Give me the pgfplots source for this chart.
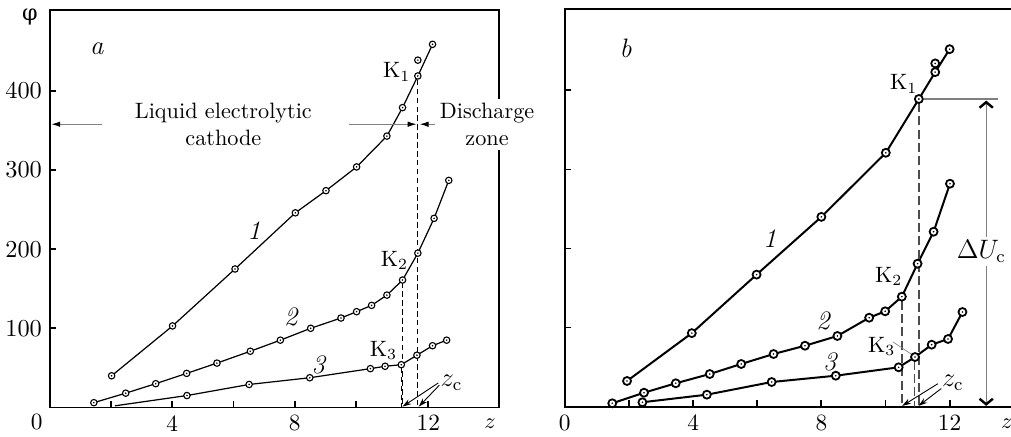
\documentclass[border=0pt]{standalone}
\usepackage{fontspec}
\usepackage{pgfplots}
\pgfplotsset{compat=1.18}
\usetikzlibrary{arrows.meta}
\newfontfamily\dejavu{DejaVu Serif}

% open circle with a dot in the middle
\pgfdeclareplotmark{odot}{%
  \pgfpathcircle{\pgfpointorigin}{\pgfplotmarksize}%
  \pgfsetfillcolor{white}%
  \pgfusepathqfillstroke
  \pgfsetfillcolor{black}%
  \pgfpathcircle{\pgfpointorigin}{0.4pt}%
  \pgfusepathqfill}

\pgfplotsset{
  panel/.style={scale only axis, clip=false, anchor=south west,
    xmin=0, ymin=0, tick pos=left, tick align=inside,
    major tick length=3pt,
    axis line style={line width=0.8pt},
    tick style={line width=0.8pt, black},
    tick label style={font=\fontsize{10.5}{12}\selectfont},
    ytick={100,200,300,400}},
  ca/.style={black, line width=0.55pt, mark=odot, mark size=1.45pt,
    mark options={line width=0.5pt}},
  cb/.style={black, line width=0.9pt, mark=odot, mark size=1.8pt,
    mark options={line width=0.8pt}},
}

\begin{document}
\begin{tikzpicture}[font=\normalsize]
%--------------------------------- panel a
\begin{axis}[panel, at={(22.39pt,12.87pt)},
  width=202.16pt, height=178.83pt, xmax=14.67, ymax=502.4,
  xtick={2,4,6,8,10,12.36}, xticklabels={,4,,8,,12}]
\addplot[ca] coordinates {(2.02,40) (4.01,103) (6.05,175) (8.02,246) (9.02,274)
  (10.02,304) (11.01,343) (11.52,379) (12.02,419) (12.5,459)};
\addplot[ca, only marks] coordinates {(12.02,439)};
\addplot[ca] coordinates {(1.44,6) (2.48,18) (3.46,30) (4.47,43) (5.46,56)
  (6.55,71) (7.53,85) (8.52,100) (9.51,113) (10.02,121) (10.51,129)
  (11.01,142) (11.52,161) (12.02,195) (12.55,239) (13.03,287)};
\addplot[black, line width=0.55pt, mark=none] coordinates {(2.13,2) (4.48,15)};
\addplot[ca] coordinates {(4.48,15) (6.51,29) (8.49,37.5) (10.47,49)
  (10.95,52) (11.48,54) (11.99,66) (12.5,78) (12.96,85)};

\draw[dash pattern=on 2.5pt off 1.5pt, line width=0.5pt]
  (axis cs:11.52,158) -- (axis cs:11.52,0)
  (axis cs:11.48,50) -- (axis cs:11.48,0)
  (axis cs:12.02,414) -- (axis cs:12.02,0);
\draw[gray, line width=0.5pt, -{Latex[black,length=4pt,width=2.5pt]}]
  (axis cs:1.7,358) -- (axis cs:0.05,358);
\draw[gray, line width=0.5pt, -{Latex[black,length=4pt,width=2.5pt]}]
  (axis cs:9.78,358) -- (axis cs:11.98,358);
\draw[gray, line width=0.5pt, -{Latex[black,length=4pt,width=2.5pt]}]
  (axis cs:12.58,358) -- (axis cs:12.08,358);
\node[align=center] at (axis cs:5.67,358) {Liquid electrolytic\\cathode};
\coordinate (dz) at (axis cs:14.28,358);

\draw[line width=0.4pt, -{Stealth[length=4pt,width=2.5pt]}]
  (axis cs:12.69,31) -- (axis cs:11.52,1);
\draw[line width=0.4pt, -{Stealth[length=4pt,width=2.5pt]}]
  (axis cs:12.72,28) -- (axis cs:12.05,1);
\node[font=\large] at (axis cs:13.12,31) {$z_\mathrm{c}$};

\node[font=\large\itshape] at (axis cs:1.54,453) {a};
\node at (axis cs:11.33,424) {K$_1$};
\node at (axis cs:11.26,186) {K$_2$};
\node at (axis cs:10.9,72) {K$_3$};
\node[font=\large\itshape] at (axis cs:6.67,224) {1};
\node[font=\large\itshape] at (axis cs:7.87,115) {2};
\node[font=\large\itshape] at (axis cs:8.77,54) {3};
\node[font=\fontsize{10.5}{12}\selectfont] at (axis cs:-0.43,-18) {0};
\node at (axis cs:14.38,-21) {$z$};
\node at (axis cs:-0.65,494) {\dejavu φ};
\end{axis}
\node[fill=white, align=center, inner sep=2pt] at (dz) {Discharge\\zone};

%--------------------------------- panel b
\begin{axis}[panel, at={(254.16pt,13.19pt)},
  width=210.7pt, height=178.97pt, xmax=14.6, ymax=502.8,
  xtick={0,2,4,6,8,10,12}, xticklabels={0,,4,,8,,12}, yticklabels={}]
\addplot[cb] coordinates {(1.94,32.5) (3.96,93) (5.98,167) (8,240) (10.01,321)
  (11.04,389) (11.55,423) (12,452)};
\addplot[cb, only marks] coordinates {(11.55,434)};
\addplot[cb] coordinates {(1.48,4.3) (2.47,17.7) (3.46,29.6) (4.52,41.3)
  (5.5,54) (6.51,66.6) (7.49,77.1) (8.5,89.4) (9.49,112.5) (9.99,120.6)
  (10.51,139.1) (11,180.8) (11.5,221.2) (12.01,281.9)};
\addplot[cb] coordinates {(2.42,5.6) (4.43,15.2) (6.45,31.2) (8.45,39.2)
  (10.41,49.8) (10.92,62.8) (11.44,78.4) (11.95,85.6) (12.4,119.7)};

\draw[gray!60!black, dash pattern=on 4pt off 2pt, line width=0.6pt]
  (axis cs:10.51,134) -- (axis cs:10.51,0)
  (axis cs:10.9,58) -- (axis cs:10.9,0)
  (axis cs:11.04,384) -- (axis cs:11.04,0);
\draw[gray, line width=0.5pt] (axis cs:11.2,389) -- (axis cs:13.51,389);
\draw[gray, line width=0.5pt,
  {Straight Barb[black,length=2.5pt,width=6pt,line width=1.1pt]}-{Straight Barb[black,length=2.5pt,width=6pt,line width=1.1pt]}]
  (axis cs:13.14,387) -- (axis cs:13.14,1);
\coordinate (du) at (axis cs:12.99,196);
\draw[gray, line width=0.3pt] (axis cs:10.23,82) -- (axis cs:10.82,66);

\draw[line width=0.4pt, -{Stealth[length=4pt,width=2.5pt]}]
  (axis cs:11.63,29) -- (axis cs:10.52,1);
\draw[line width=0.4pt, -{Stealth[length=4pt,width=2.5pt]}]
  (axis cs:11.74,23) -- (axis cs:11.03,1);
\node[font=\large] at (axis cs:12.1,30) {$z_\mathrm{c}$};

\node[font=\large\itshape] at (axis cs:1.9,453) {b};
\node at (axis cs:10.57,408) {K$_1$};
\node at (axis cs:10.1,165) {K$_2$};
\node at (axis cs:9.88,76) {K$_3$};
\node[font=\large\itshape] at (axis cs:6.39,213) {1};
\node[font=\large\itshape] at (axis cs:8.05,108) {2};
\node[font=\large\itshape] at (axis cs:8.26,57) {3};
\node at (axis cs:13.78,-22) {$z$};
\end{axis}
\node[fill=white, inner sep=1.5pt, font=\large] at (du) {$\Delta U_\mathrm{c}$};

\pgfresetboundingbox
\useasboundingbox (0,0) rectangle (454.95pt,196.2pt);
\end{tikzpicture}
\end{document}
